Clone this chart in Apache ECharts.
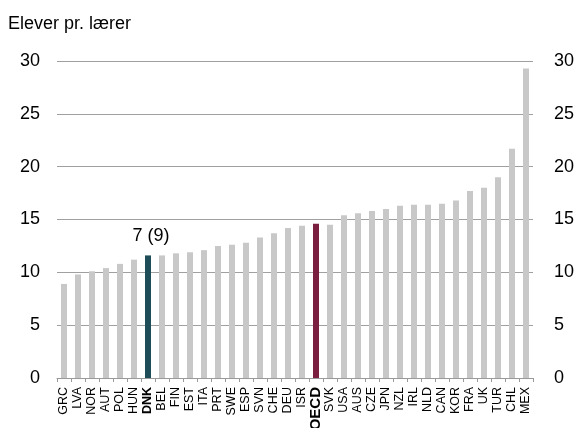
<!DOCTYPE html>
<html>
<head>
<meta charset="utf-8">
<script src="https://cdn.jsdelivr.net/npm/echarts@6/dist/echarts.min.js"></script>
<style>html,body{margin:0;padding:0;background:#fff}#c{width:577px;height:428px}</style>
</head>
<body>
<div id="c"></div>
<script>
const titleText = "Elever pr. lærer";
const categories = ["GRC","LVA","NOR","AUT","POL","HUN","DNK","BEL","FIN","EST","ITA","PRT","SWE","ESP","SVN","CHE","DEU","ISR","OECD","SVK","USA","AUS","CZE","JPN","NZL","IRL","NLD","CAN","KOR","FRA","UK","TUR","CHL","MEX"];
const values = [8.9,9.8,10.1,10.4,10.8,11.2,11.6,11.6,11.8,11.9,12.1,12.5,12.6,12.8,13.3,13.7,14.2,14.4,14.6,14.5,15.4,15.6,15.8,16.0,16.3,16.4,16.4,16.5,16.8,17.7,18.0,19.0,21.7,29.3];
const highlightDNK = "DNK";
const highlightOECD = "OECD";
const dnkLabel = "7 (9)";

const FONT = "Liberation Sans, Arial, sans-serif";
const data = categories.map((c, i) => {
  const item = { value: values[i] };
  if (c === highlightDNK) {
    item.itemStyle = { color: "#1f4d57" };
    item.label = { show: true, position: "top", distance: 10, offset: [3, 0], formatter: dnkLabel,
      fontFamily: FONT, fontSize: 18, color: "#000" };
  } else if (c === highlightOECD) {
    item.itemStyle = { color: "#7a1f3f" };
  }
  return item;
});

const chart = echarts.init(document.getElementById("c"), null, { renderer: "canvas" });
const yAxisCommon = {
  type: "value", min: 0, max: 30, interval: 5,
  axisLine: { show: false }, axisTick: { show: false },
  axisLabel: { fontFamily: FONT, fontSize: 18, color: "#000" }
};
chart.setOption({
  animation: false,
  backgroundColor: "#fff",
  title: { text: titleText, left: 3, top: 10,
    textStyle: { fontFamily: FONT, fontSize: 18, fontWeight: "normal", color: "#000" } },
  grid: { left: 57, right: 44, top: 61, bottom: 50, containLabel: false, outerBoundsMode: "none" },
  xAxis: {
    type: "category", data: categories,
    axisLine: { lineStyle: { color: "#9a9a9a", width: 1 } },
    axisTick: { show: true, length: 4, lineStyle: { color: "#9a9a9a" } },
    axisLabel: {
      interval: 0, rotate: 90, margin: 9, fontFamily: FONT, fontSize: 12.5, color: "#000",
      formatter: v => v === highlightDNK ? "{b|" + v + "}" : (v === highlightOECD ? "{o|" + v + "}" : v),
      rich: {
        b: { fontWeight: "bold", fontFamily: FONT, fontSize: 12.5, color: "#000" },
        o: { fontWeight: "bold", fontFamily: FONT, fontSize: 15, color: "#000" }
      }
    }
  },
  yAxis: [
    Object.assign({}, yAxisCommon, { position: "left",
      axisLabel: Object.assign({}, yAxisCommon.axisLabel, { margin: 17 }),
      splitLine: { show: true, lineStyle: { color: "#a0a0a0", width: 1 } } }),
    Object.assign({}, yAxisCommon, { position: "right",
      axisLabel: Object.assign({}, yAxisCommon.axisLabel, { margin: 21 }),
      splitLine: { show: false } })
  ],
  series: [{
    type: "bar", data: data, barWidth: 6, yAxisIndex: 0,
    itemStyle: { color: "#c8c8c8" }
  }]
});
</script>
</body>
</html>
